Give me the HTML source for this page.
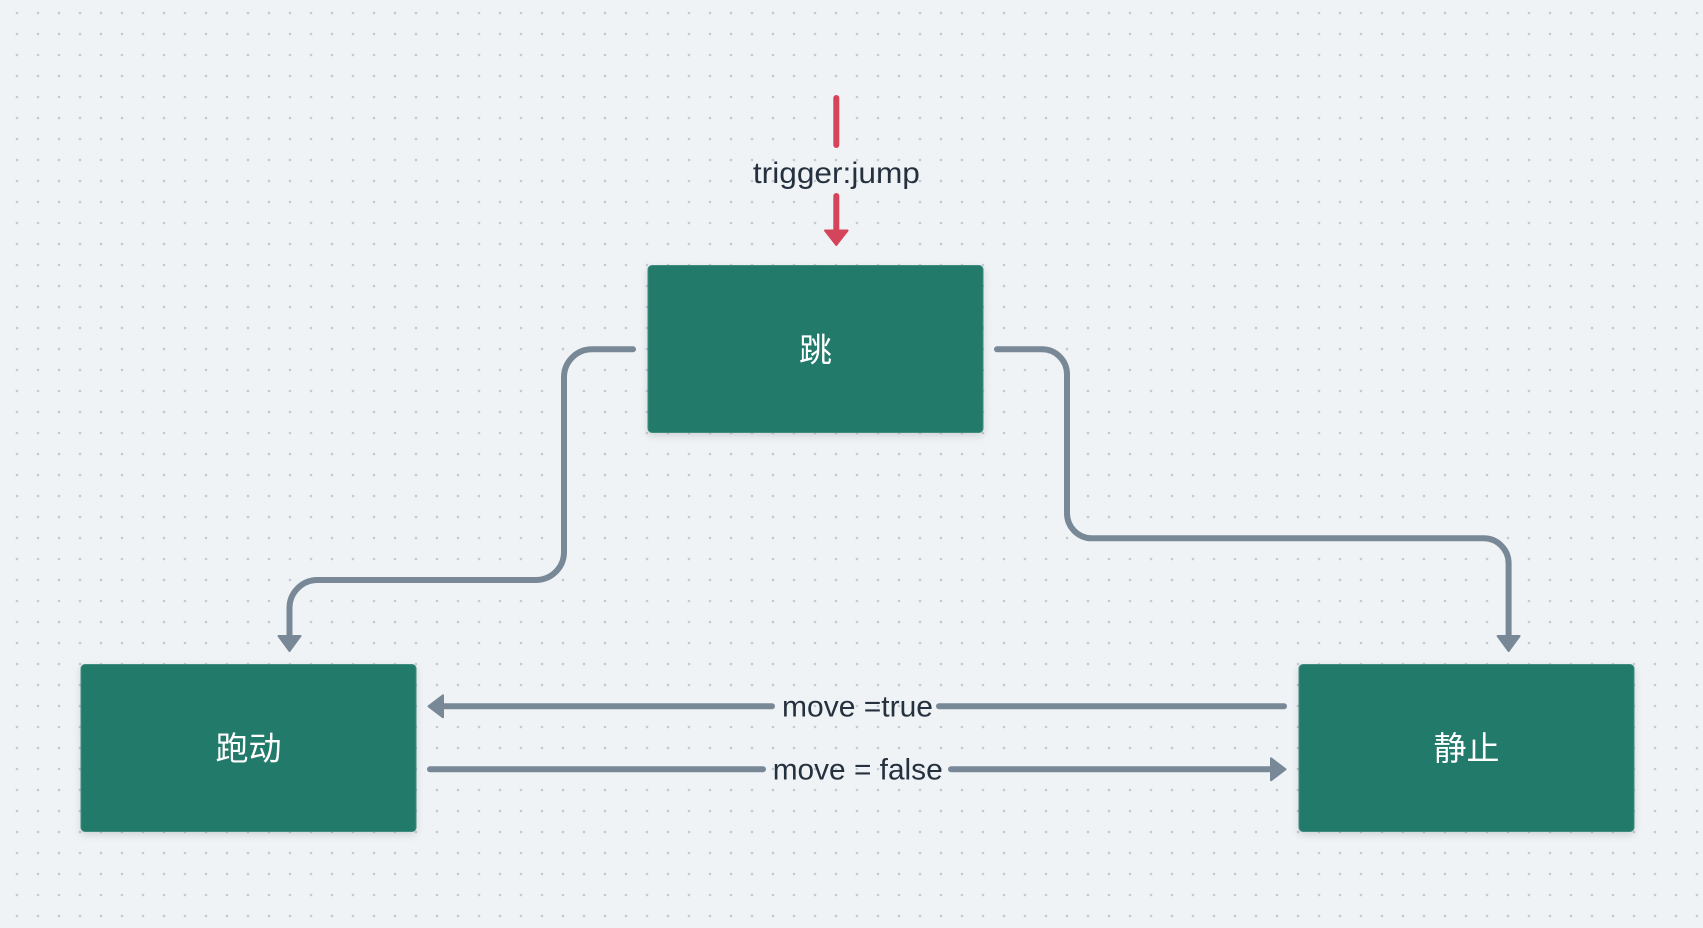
<!DOCTYPE html>
<html>
<head>
<meta charset="utf-8">
<style>
html,body{margin:0;padding:0;background:#eff3f6;}
svg{display:block;}
</style>
</head>
<body>
<svg width="1703" height="928" viewBox="0 0 1703 928" xmlns="http://www.w3.org/2000/svg">
<defs>
<pattern id="dots" x="0" y="0" width="21" height="21" patternUnits="userSpaceOnUse">
<circle cx="17" cy="13" r="1.3" fill="#c3cad5"/>
</pattern>
<filter id="sh" x="-10%" y="-10%" width="120%" height="130%">
<feDropShadow dx="0" dy="3" stdDeviation="4" flood-color="#000" flood-opacity="0.13"/>
</filter>
</defs>
<rect width="1703" height="928" fill="#eff3f6"/>
<rect width="1703" height="928" fill="url(#dots)"/>

<!-- boxes -->
<rect x="648" y="265.5" width="335" height="167" rx="4" fill="#207a6a" stroke="#3f8c7d" stroke-width="1" filter="url(#sh)"/>
<rect x="81" y="664.5" width="335" height="167" rx="4" fill="#207a6a" stroke="#3f8c7d" stroke-width="1" filter="url(#sh)"/>
<rect x="1299" y="664.5" width="335" height="167" rx="4" fill="#207a6a" stroke="#3f8c7d" stroke-width="1" filter="url(#sh)"/>

<g font-family="'Liberation Sans','Noto Sans CJK SC',sans-serif" font-size="33" fill="#ffffff" text-anchor="middle">
<text x="815.5" y="361.5">跳</text>
<text x="248.5" y="760">跑动</text>
<text x="1466.5" y="760">静止</text>
</g>

<!-- gray connectors -->
<g fill="none" stroke="#798897" stroke-width="6" stroke-linecap="round" stroke-linejoin="round">
<path d="M 633 349.3 H 592 A 28 28 0 0 0 564 377.3 V 552 A 28 28 0 0 1 536 580 H 317.5 A 28 28 0 0 0 289.5 608 V 637"/>
<path d="M 997 349.3 H 1042 A 25 25 0 0 1 1067 374.3 V 513.3 A 25 25 0 0 0 1092 538.3 H 1483.6 A 25 25 0 0 1 1508.6 563.3 V 637"/>
<path d="M 1284 706.3 H 939"/>
<path d="M 772 706.3 H 443"/>
<path d="M 430 769.3 H 763"/>
<path d="M 951 769.3 H 1271"/>
</g>
<g fill="#798897" stroke="#798897" stroke-width="2" stroke-linejoin="round">
<polygon points="278.5,636 300.5,636 289.5,651"/>
<polygon points="1497.6,636 1519.6,636 1508.6,651"/>
<polygon points="443,695.3 443,717.3 428.5,706.3"/>
<polygon points="1271,758.3 1271,780.3 1285.5,769.3"/>
</g>

<!-- red trigger arrow -->
<g fill="none" stroke="#d4455b" stroke-width="6" stroke-linecap="round">
<path d="M 836.3 98 V 145"/>
<path d="M 836.3 196 V 231"/>
</g>
<polygon points="825,230.5 847.6,230.5 836.3,245" fill="#d4455b" stroke="#d4455b" stroke-width="2" stroke-linejoin="round"/>

<!-- labels -->
<g font-family="'Liberation Sans',sans-serif" font-size="30" fill="#26313f" text-anchor="middle">
<text x="836.4" y="183" textLength="167" lengthAdjust="spacingAndGlyphs">trigger:jump</text>
<text x="857.5" y="716.7" textLength="151" lengthAdjust="spacingAndGlyphs">move =true</text>
<text x="857.7" y="779.3" textLength="170" lengthAdjust="spacingAndGlyphs">move = false</text>
</g>
</svg>
</body>
</html>
